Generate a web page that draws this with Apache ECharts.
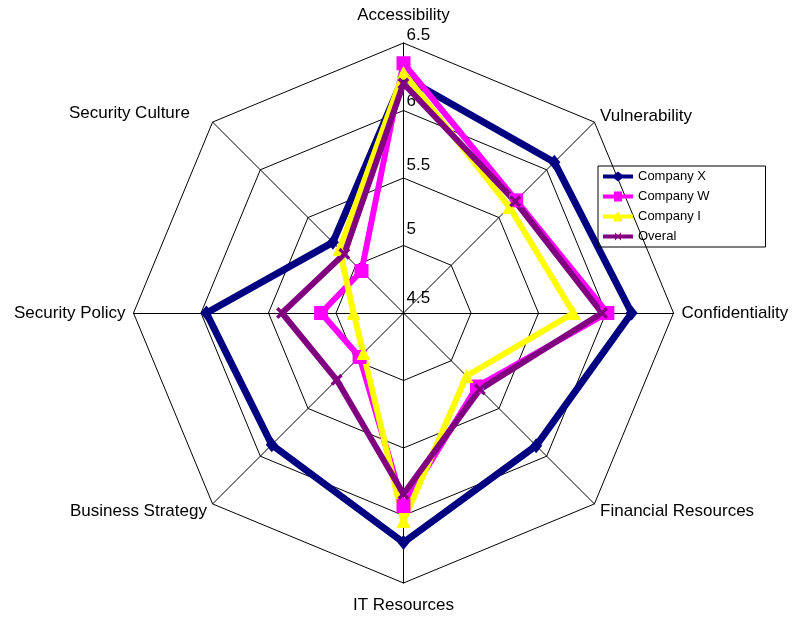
<!DOCTYPE html>
<html>
<head>
<meta charset="utf-8">
<script src="https://cdn.jsdelivr.net/npm/echarts@6/dist/echarts.min.js"></script>
<style>
    html, body { margin: 0; padding: 0; background: #fff; }
    #main { width: 799px; height: 617px; }
</style>
</head>
<body>
<div id="main"></div>
<script>
    // axes, clockwise from the top as in the picture
    var axisNames = ['Accessibility', 'Vulnerability', 'Confidentiality', 'Financial Resources',
                     'IT Resources', 'Business Strategy', 'Security Policy', 'Security Culture'];
    var tickLabels = ['4.5', '5', '5.5', '6', '6.5'];

    var companyX = [6.25, 6.08, 6.19, 5.89, 6.20, 5.88, 5.96, 5.24];
    var companyW = [6.35, 5.68, 6.01, 5.27, 5.93, 4.96, 5.11, 4.94];
    var companyI = [6.28, 5.61, 5.76, 5.16, 6.04, 4.92, 4.87, 5.17];
    var overal   = [6.20, 5.67, 5.97, 5.30, 5.84, 5.20, 5.40, 5.12];

    var seriesNames = ['Company X', 'Company W', 'Company I', 'Overal'];

    // echarts radar runs anticlockwise, so reorder: top, then left side going down
    var order = [0, 7, 6, 5, 4, 3, 2, 1];
    var reorder = function (arr) { return order.map(function (i) { return arr[i]; }); };

    var font = 'Liberation Sans, Arial, sans-serif';
    var crossPath = 'path://M0,2 L2,0 L5,3 L8,0 L10,2 L7,5 L10,8 L8,10 L5,7 L2,10 L0,8 L3,5 Z';

    // legend icons: thick line with the marker in the middle
    var legendIcons = [
        'path://M0,3 L11,3 L15,0 L19,3 L30,3 L30,7 L19,7 L15,10 L11,7 L0,7 Z',
        'path://M0,3 L11,3 L11,0 L19,0 L19,3 L30,3 L30,7 L19,7 L19,10 L11,10 L11,7 L0,7 Z',
        'path://M0,3 L13,3 L15,0 L17,3 L30,3 L30,7 L19,7 L19,10 L11,10 L11,7 L0,7 Z',
        'path://M0,3 L12,3 L12,1 L14,3 L16,3 L18,1 L18,3 L30,3 L30,7 L18,7 L18,9 L16,7 L14,7 L12,9 L12,7 L0,7 Z'
    ];

    // per-label vertical offsets, tick labels sit above their ring
    var tickRich = {};
    [30, 32, 26, 19, 16].forEach(function (p, i) {
        tickRich['t' + i] = { color: '#000', fontSize: 17, fontFamily: font, padding: [0, 0, p, 11] };
    });

    var nameRich = {
        up: { color: '#000', fontSize: 17, fontFamily: font, padding: [0, 0, 11, 0] },
        culture: { color: '#000', fontSize: 17, fontFamily: font, padding: [0, 17, 6, 0] },
        low: { color: '#000', fontSize: 17, fontFamily: font, padding: [3, 0, 0, 0] },
        bottom: { color: '#000', fontSize: 17, fontFamily: font, padding: [6, 0, 0, 0] }
    };
    var nameStyle = {
        'Accessibility': 'up',
        'Security Culture': 'culture',
        'Business Strategy': 'low',
        'Financial Resources': 'low',
        'IT Resources': 'bottom'
    };

    var indicator = reorder(axisNames).map(function (name, i) {
        var ind = { name: name, min: 4.5, max: 6.5 };
        if (i === 0) {
            ind.axisLabel = {
                show: true,
                showMinLabel: true,
                showMaxLabel: true,
                color: '#000',
                fontSize: 17,
                fontFamily: font,
                align: 'left',
                verticalAlign: 'middle',
                formatter: function (v) {
                    var k = Math.round((v - 4.5) * 2);
                    return '{t' + k + '|' + tickLabels[k] + '}';
                },
                rich: tickRich
            };
        }
        return ind;
    });

    var myChart = echarts.init(document.getElementById('main'));
    var option = {
        backgroundColor: '#fff',
        animation: false,
        color: ['#000080', '#ff00ff', '#ffff00', '#800080'],
        legend: {
            data: seriesNames.map(function (n, i) { return { name: n, icon: legendIcons[i] }; }),
            orient: 'vertical',
            left: 598,
            top: 166,
            padding: [4, 56, 4, 5],
            itemGap: 7,
            itemWidth: 30,
            itemHeight: 10,
            borderColor: '#000',
            borderWidth: 1,
            textStyle: { color: '#000', fontSize: 13, fontFamily: font }
        },
        radar: {
            center: [403.5, 313],
            radius: 270,
            startAngle: 90,
            splitNumber: 4,
            shape: 'polygon',
            indicator: indicator,
            nameGap: 8,
            axisName: {
                color: '#000',
                fontSize: 17,
                fontFamily: font,
                formatter: function (name) {
                    return nameStyle[name] ? '{' + nameStyle[name] + '|' + name + '}' : name;
                },
                rich: nameRich
            },
            axisLine: { lineStyle: { color: '#000', width: 1 } },
            splitLine: { lineStyle: { color: '#000', width: 1 } },
            splitArea: { show: false }
        },
        series: [{
            type: 'radar',
            data: [
                {
                    name: 'Company X', value: reorder(companyX),
                    symbol: 'diamond', symbolSize: [12, 15],
                    lineStyle: { width: 7, color: '#000080' },
                    itemStyle: { color: '#000080' }
                },
                {
                    name: 'Company W', value: reorder(companyW),
                    symbol: 'rect', symbolSize: 14,
                    lineStyle: { width: 6, color: '#ff00ff' },
                    itemStyle: { color: '#ff00ff' }
                },
                {
                    name: 'Company I', value: reorder(companyI),
                    symbol: 'triangle', symbolSize: 14,
                    lineStyle: { width: 6, color: '#ffff00' },
                    itemStyle: { color: '#ffff00' }
                },
                {
                    name: 'Overal', value: reorder(overal),
                    symbol: crossPath, symbolSize: 12,
                    lineStyle: { width: 6, color: '#800080' },
                    itemStyle: { color: '#800080' }
                }
            ]
        }]
    };
    myChart.setOption(option);
</script>
</body>
</html>
